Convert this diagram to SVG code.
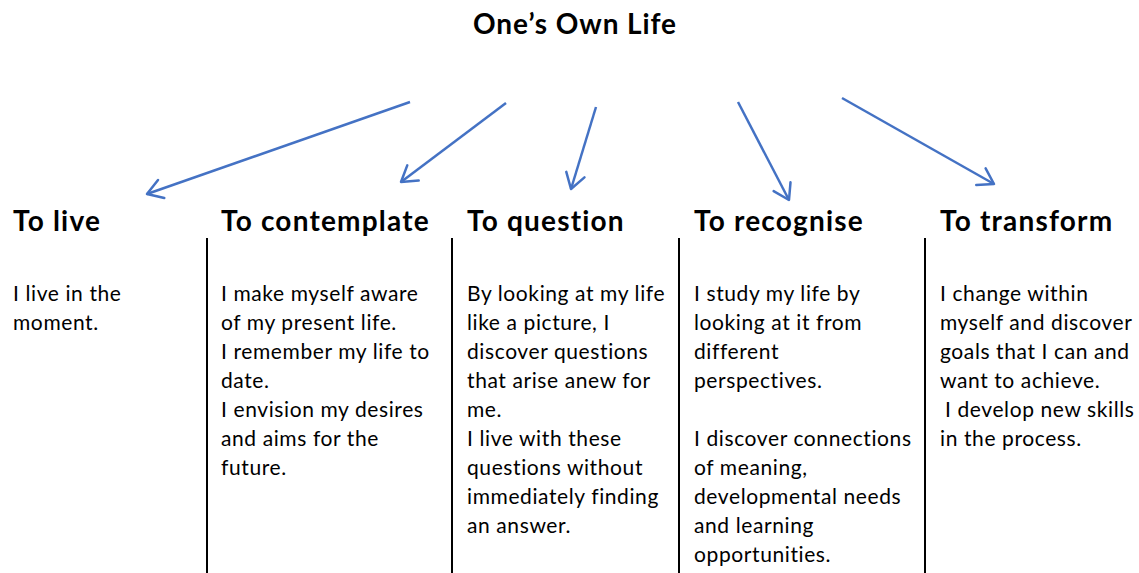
<svg xmlns="http://www.w3.org/2000/svg" width="1139" height="573" viewBox="0 0 1139 573">
  <style>
    .title { font-family: Lato, "Liberation Sans", sans-serif; font-weight: 700; font-size: 28px; letter-spacing: 0.9px; fill: #000; }
    .head { font-family: Lato, "Liberation Sans", sans-serif; font-weight: 700; font-size: 28px; letter-spacing: 1.2px; fill: #000; }
    .body { font-family: Lato, "Liberation Sans", sans-serif; font-size: 21px; letter-spacing: 0.6px; fill: #000; }
    .divider { stroke: #000; stroke-width: 2; }
    .arrow { stroke: #4472C4; stroke-width: 2.5; fill: none; marker-end: url(#chevron); }
  </style>
  <defs>
    <marker id="chevron" markerUnits="userSpaceOnUse" markerWidth="30" markerHeight="30" refX="20" refY="12" orient="auto">
      <path d="M5,2.5 L20,12 L5,21.5" fill="none" stroke="#4472C4" stroke-width="2.5" stroke-linecap="round" stroke-linejoin="round"/>
    </marker>
  </defs>
  <rect width="1139" height="573" fill="#fff"/>

  <g id="title">
    <text class="title" x="575" y="34" text-anchor="middle">One’s Own Life</text>
  </g>

  <g id="connectors">
    <line class="arrow" x1="410" y1="102" x2="147" y2="194"/>
    <line class="arrow" x1="506" y1="103" x2="401" y2="182"/>
    <line class="arrow" x1="596" y1="107" x2="571" y2="189"/>
    <line class="arrow" x1="738" y1="102" x2="789" y2="200"/>
    <line class="arrow" x1="842" y1="98" x2="994" y2="184"/>
  </g>

  <g id="dividers">
    <line class="divider" x1="207" y1="238" x2="207" y2="573"/>
    <line class="divider" x1="452" y1="238" x2="452" y2="573"/>
    <line class="divider" x1="679" y1="238" x2="679" y2="573"/>
    <line class="divider" x1="925" y1="238" x2="925" y2="573"/>
  </g>

  <g id="to-live">
    <text class="head" x="13" y="231">To live</text>
    <text class="body">
      <tspan x="13" y="301">I live in the</tspan>
      <tspan x="13" y="330">moment.</tspan>
    </text>
  </g>

  <g id="to-contemplate">
    <text class="head" x="221" y="231">To contemplate</text>
    <text class="body">
      <tspan x="221" y="301">I make myself aware</tspan>
      <tspan x="221" y="330">of my present life.</tspan>
      <tspan x="221" y="359">I remember my life to</tspan>
      <tspan x="221" y="388">date.</tspan>
      <tspan x="221" y="417">I envision my desires</tspan>
      <tspan x="221" y="446">and aims for the</tspan>
      <tspan x="221" y="475">future.</tspan>
    </text>
  </g>

  <g id="to-question">
    <text class="head" x="467" y="231">To question</text>
    <text class="body">
      <tspan x="467" y="301">By looking at my life</tspan>
      <tspan x="467" y="330">like a picture, I</tspan>
      <tspan x="467" y="359">discover questions</tspan>
      <tspan x="467" y="388">that arise anew for</tspan>
      <tspan x="467" y="417">me.</tspan>
      <tspan x="467" y="446">I live with these</tspan>
      <tspan x="467" y="475">questions without</tspan>
      <tspan x="467" y="504">immediately finding</tspan>
      <tspan x="467" y="533">an answer.</tspan>
    </text>
  </g>

  <g id="to-recognise">
    <text class="head" x="694" y="231">To recognise</text>
    <text class="body">
      <tspan x="694" y="301">I study my life by</tspan>
      <tspan x="694" y="330">looking at it from</tspan>
      <tspan x="694" y="359">different</tspan>
      <tspan x="694" y="388">perspectives.</tspan>
      <tspan x="694" y="446">I discover connections</tspan>
      <tspan x="694" y="475">of meaning,</tspan>
      <tspan x="694" y="504">developmental needs</tspan>
      <tspan x="694" y="533">and learning</tspan>
      <tspan x="694" y="562">opportunities.</tspan>
    </text>
  </g>

  <g id="to-transform">
    <text class="head" x="940" y="231">To transform</text>
    <text class="body">
      <tspan x="940" y="301">I change within</tspan>
      <tspan x="940" y="330">myself and discover</tspan>
      <tspan x="940" y="359">goals that I can and</tspan>
      <tspan x="940" y="388">want to achieve.</tspan>
      <tspan x="945" y="417">I develop new skills</tspan>
      <tspan x="940" y="446">in the process.</tspan>
    </text>
  </g>
</svg>
